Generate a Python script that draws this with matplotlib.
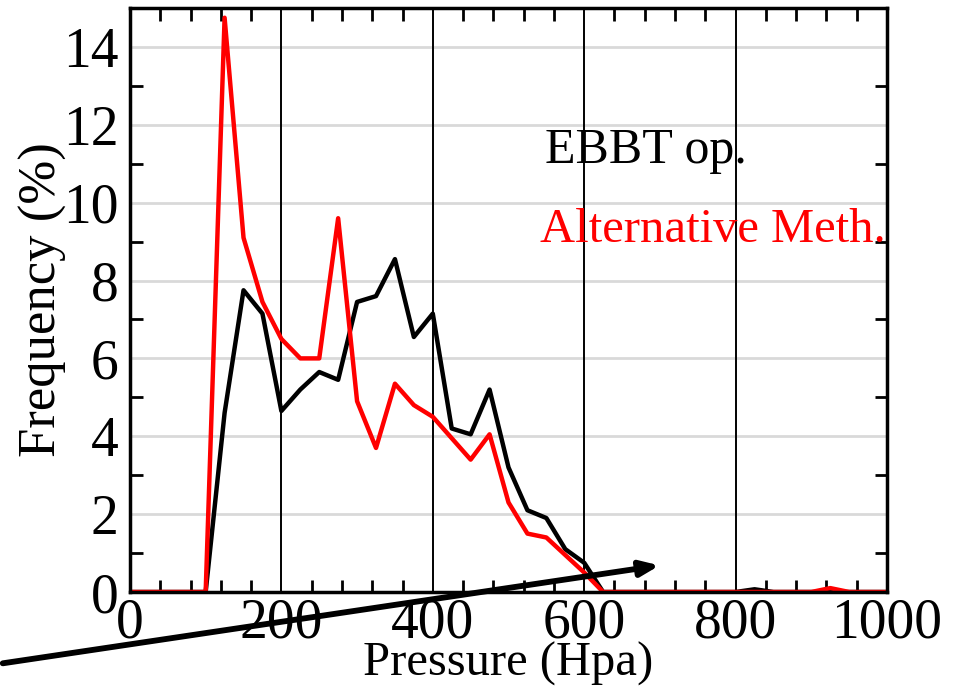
import matplotlib.pyplot as plt
import numpy as np

# pressure bins (Hpa), every 25
pressure = np.arange(0, 1001, 25)

ebbt = [0, 0, 0, 0, 0, 4.6, 7.75, 7.15, 4.65, 5.2, 5.65, 5.45, 7.45, 7.6, 8.55,
        6.55, 7.15, 4.2, 4.05, 5.2, 3.2, 2.1, 1.9, 1.1, 0.75, 0, 0, 0, 0, 0,
        0, 0, 0, 0.07, 0, 0, 0, 0, 0, 0, 0]
alt = [0, 0, 0, 0, 0, 14.75, 9.1, 7.45, 6.5, 6.0, 6.0, 9.6, 4.9, 3.7, 5.35,
       4.8, 4.5, 3.95, 3.4, 4.05, 2.3, 1.5, 1.4, 0.95, 0.5, 0, 0, 0, 0, 0,
       0, 0, 0, 0, 0, 0, 0, 0.1, 0, 0, 0]

plt.rcParams['font.family'] = ['Liberation Serif', 'DejaVu Serif']

W, H = 957, 695
fig = plt.figure(figsize=(W / 100, H / 100), dpi=100)
ax = fig.add_axes([0.1358, 0.1482, 0.7911, 0.8403])

ax.plot(pressure, ebbt, color='black', lw=3.2)
ax.plot(pressure, alt, color='red', lw=3.2)

ax.set_xlim(0, 1000)
ax.set_ylim(0, 15)
ax.set_xticks([0, 200, 400, 600, 800, 1000])
ax.set_xticks(np.arange(0, 1001, 40), minor=True)
ax.set_yticks(np.arange(0, 15, 2))
ax.set_yticks(np.arange(1, 15, 2), minor=True)

for y in range(2, 15, 2):
    ax.axhline(y, color='#d9d9d9', lw=2, zorder=0)
for x in [200, 400, 600, 800]:
    ax.axvline(x, color='black', lw=1.4, zorder=0)

ax.tick_params(which='both', direction='in', top=True, right=True, width=2)
ax.tick_params(which='major', length=0, labelsize=40, pad=4)
ax.tick_params(which='minor', length=9)
ax.tick_params(axis='y', which='major', pad=8)
for s in ax.spines.values():
    s.set_linewidth(2.5)

ax.set_xlabel('Pressure (Hpa)', fontsize=35)
ax.xaxis.set_label_coords(0.5, -0.086)
ax.set_ylabel('Frequency (%)', fontsize=38)
ax.yaxis.set_label_coords(-0.083, 0.5)

fig.text(545 / W, 1 - 163 / H, 'EBBT op.', fontsize=36, color='black', va='baseline')
fig.text(540 / W, 1 - 242 / H, 'Alternative Meth.', fontsize=35, color='red', va='baseline')

# arrow across the bottom
ax.annotate('', xy=(0.692, 0.187), xytext=(0.0, 0.045), xycoords='figure fraction',
            textcoords='figure fraction',
            arrowprops=dict(arrowstyle='-|>,head_length=1.1,head_width=0.45',
                            color='black', lw=4.2))

fig.savefig('out.png', dpi=100)
